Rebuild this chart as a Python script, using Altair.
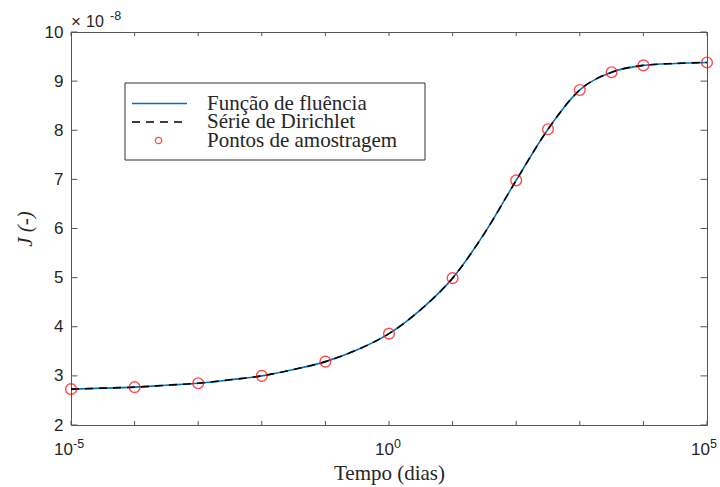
import altair as alt
import pandas as pd

# ---- data (J values in units of 1e-8) ----
sample_t = [1e-5, 1e-4, 1e-3, 1e-2, 1e-1, 1e0, 1e1, 1e2, 316.2, 1e3, 3162.3, 1e4, 1e5]
sample_J = [2.73, 2.77, 2.85, 3.00, 3.29, 3.86, 4.99, 6.98, 8.02, 8.82, 9.18, 9.32, 9.38]

curve_t = [1e-5, 3.162e-5, 1e-4, 3.162e-4, 1e-3, 3.162e-3, 1e-2, 3.162e-2, 1e-1, 3.162e-1,
           1e0, 3.162, 1e1, 31.62, 1e2, 316.2, 1e3, 3162.3, 1e4, 31623.0, 1e5]
curve_J = [2.73, 2.75, 2.77, 2.81, 2.85, 2.92, 3.00, 3.13, 3.29, 3.53,
           3.86, 4.35, 4.99, 5.90, 6.98, 8.02, 8.82, 9.18, 9.32, 9.36, 9.38]

xtick_t = [1e-5, 1e-4, 1e-3, 1e-2, 1e-1, 1e0, 1e1, 1e2, 1e3, 1e4, 1e5]
ytick_J = [2, 3, 4, 5, 6, 7, 8, 9, 10]
xlabel_t = [1e-5, 1e0, 1e5]
xlabel_exp = ["-5", "0", "5"]

legend_labels = ["Função de fluência", "Série de Dirichlet", "Pontos de amostragem"]

W, H = 636, 393
AX = "#555555"
TXT = "#262626"
SERIF = "Liberation Serif"
SANS = "Liberation Sans"
label_dx = [2, 5, 3]

samples = pd.DataFrame({"t": sample_t, "J": sample_J})
curve = pd.DataFrame({"t": curve_t, "J": curve_J})
xticks = pd.DataFrame({"t": xtick_t})
yticks = pd.DataFrame({"J": ytick_J})

xs = alt.Scale(type="log", domain=[1e-5, 1e5])
ys = alt.Scale(domain=[2, 10])

x_axis = alt.Axis(
    values=xlabel_t, tickSize=0, domain=False, grid=False, labels=False,
    title="Tempo (dias)", titleFont=SERIF, titleFontSize=21, titleFontWeight="normal",
    titleColor=TXT, titlePadding=37,
)
y_axis = alt.Axis(
    values=ytick_J, tickSize=0, domain=False, grid=False,
    labelFont=SANS, labelFontSize=17, labelColor=TXT, labelPadding=8,
    title="J (-)", titleFont=SERIF, titleFontSize=21, titleFontWeight="normal",
    titleFontStyle="italic", titleColor=TXT, titlePadding=9,
)

base_curve = alt.Chart(curve)

blue = base_curve.mark_line(color="#0072BD", strokeWidth=1.6, interpolate="monotone").encode(
    x=alt.X("t:Q", scale=xs, axis=x_axis),
    y=alt.Y("J:Q", scale=ys, axis=y_axis),
)
dashed = base_curve.mark_line(color="black", strokeWidth=1.6, strokeDash=[8, 6],
                              interpolate="monotone").encode(
    x=alt.X("t:Q", scale=xs), y=alt.Y("J:Q", scale=ys),
)
pts = alt.Chart(samples).mark_point(shape="circle", filled=False, color="#FF0000",
                                    size=115, strokeWidth=1.4).encode(
    x=alt.X("t:Q", scale=xs), y=alt.Y("J:Q", scale=ys),
)

# inward ticks on all four sides
xt_bottom = alt.Chart(xticks).mark_rule(color=AX, strokeWidth=1).encode(
    x=alt.X("t:Q", scale=xs), y=alt.value(H), y2=alt.value(H - 4))
xt_top = alt.Chart(xticks).mark_rule(color=AX, strokeWidth=1).encode(
    x=alt.X("t:Q", scale=xs), y=alt.value(0), y2=alt.value(4))
yt_left = alt.Chart(yticks).mark_rule(color=AX, strokeWidth=1).encode(
    y=alt.Y("J:Q", scale=ys), x=alt.value(0), x2=alt.value(6.5))
yt_right = alt.Chart(yticks).mark_rule(color=AX, strokeWidth=1).encode(
    y=alt.Y("J:Q", scale=ys), x=alt.value(W), x2=alt.value(W - 6.5))

# x tick labels 10^n as base + superscript
xlabel_layers = []
for t, e, dx in zip(xlabel_t, xlabel_exp, label_dx):
    d = pd.DataFrame({"t": [t], "b": ["10"], "e": [e]})
    xlabel_layers.append(alt.Chart(d).mark_text(
        align="right", baseline="alphabetic", font=SANS, fontSize=17, color=TXT, dx=dx
    ).encode(x=alt.X("t:Q", scale=xs), y=alt.value(H + 30), text="b:N"))
    xlabel_layers.append(alt.Chart(d).mark_text(
        align="left", baseline="alphabetic", font=SANS, fontSize=12.5, color=TXT, dx=dx
    ).encode(x=alt.X("t:Q", scale=xs), y=alt.value(H + 23), text="e:N"))

# exponent factor  ×10^-8
factor_x = alt.Chart(pd.DataFrame({"s": ["×"]})).mark_text(
    align="left", baseline="alphabetic", font=SANS, fontSize=17, color=TXT
).encode(text="s:N", x=alt.value(0), y=alt.value(-5))
factor_base = alt.Chart(pd.DataFrame({"s": ["10"]})).mark_text(
    align="left", baseline="alphabetic", font=SANS, fontSize=16, color=TXT
).encode(text="s:N", x=alt.value(15), y=alt.value(-5))
factor_exp = alt.Chart(pd.DataFrame({"s": ["-8"]})).mark_text(
    align="left", baseline="alphabetic", font=SANS, fontSize=12.5, color=TXT
).encode(text="s:N", x=alt.value(39), y=alt.value(-12))

# legend
row_y = [71.5, 90, 108.5]
one = pd.DataFrame({"a": [0]})
leg_box = alt.Chart(one).mark_rect(
    fill="white", stroke="#333333", strokeWidth=1
).encode(x=alt.value(54), x2=alt.value(354), y=alt.value(51), y2=alt.value(128))
leg_blue = alt.Chart(one).mark_rule(color="#0072BD", strokeWidth=1.6).encode(
    x=alt.value(61), x2=alt.value(116), y=alt.value(row_y[0]))
leg_dash = alt.Chart(one).mark_rule(color="black", strokeWidth=1.6, strokeDash=[8, 6]).encode(
    x=alt.value(61), x2=alt.value(116), y=alt.value(row_y[1]))
leg_pt = alt.Chart(one).mark_point(shape="circle", filled=False, color="#FF0000",
                                   size=40, strokeWidth=1.3).encode(
    x=alt.value(87.5), y=alt.value(row_y[2]))
leg_texts = [
    alt.Chart(pd.DataFrame({"label": [lab]})).mark_text(
        align="left", baseline="middle", font=SERIF, fontSize=21, color=TXT
    ).encode(text="label:N", x=alt.value(136), y=alt.value(ry))
    for lab, ry in zip(legend_labels, row_y)
]

chart = alt.layer(
    blue, dashed, pts, xt_bottom, xt_top, yt_left, yt_right,
    *xlabel_layers, factor_x, factor_base, factor_exp,
    leg_box, leg_blue, leg_dash, leg_pt, *leg_texts,
).properties(
    width=W, height=H,
    autosize=alt.AutoSizeParams(type="none"),
    padding={"left": 71, "top": 32, "right": 13, "bottom": 62},
    background="white",
).configure_view(stroke=AX, strokeWidth=1)

chart.save("out.html", embed_options={"renderer": "svg", "actions": False})
